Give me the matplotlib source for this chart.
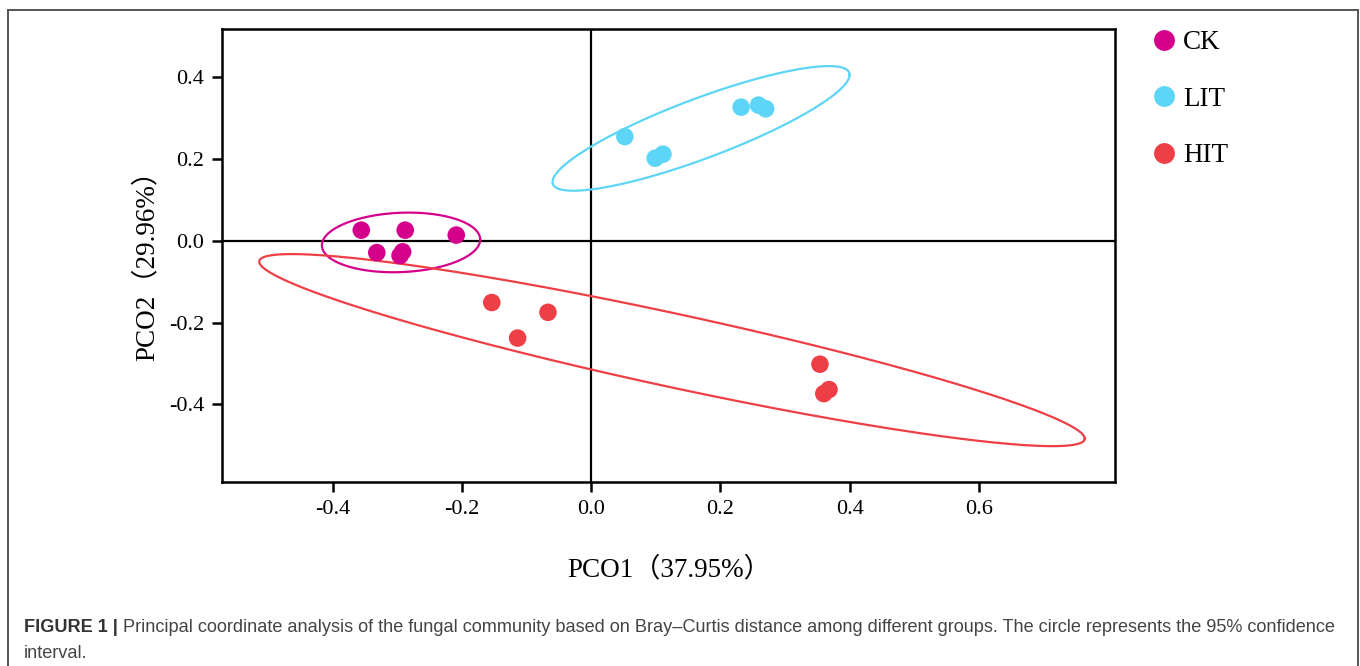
import numpy as np
import matplotlib
matplotlib.use('Agg')
import matplotlib.pyplot as plt
from matplotlib.lines import Line2D

# PCoA scores
groups = ['CK', 'LIT', 'HIT']
colors = ['#D4008C', '#5DD5F6', '#EF3F46']

ck_x = [-0.356, -0.288, -0.209, -0.332, -0.292, -0.296]
ck_y = [0.026, 0.026, 0.014, -0.029, -0.027, -0.036]
lit_x = [0.052, 0.099, 0.111, 0.232, 0.259, 0.270]
lit_y = [0.255, 0.202, 0.212, 0.327, 0.332, 0.323]
hit_x = [-0.154, -0.067, -0.114, 0.354, 0.368, 0.360]
hit_y = [-0.151, -0.175, -0.238, -0.302, -0.364, -0.374]

# 95% ellipses: centre, half extent along x / y, correlation
ell_cx = [-0.2945, 0.170, 0.125]
ell_cy = [-0.004, 0.275, -0.2675]
ell_sx = [0.1225, 0.230, 0.639]
ell_sy = [0.073, 0.1525, 0.235]
ell_r = [0.096, 0.859, -0.921]

xticks = [-0.4, -0.2, 0.0, 0.2, 0.4, 0.6]
yticks = [-0.4, -0.2, 0.0, 0.2, 0.4]

serif = ['Liberation Serif', 'Noto Sans CJK SC']

fig = plt.figure(figsize=(13.6, 6.66), dpi=100)
ax = fig.add_axes([0.1632, 0.2758, 0.6570, 0.6802])

pts_x = [ck_x, lit_x, hit_x]
pts_y = [ck_y, lit_y, hit_y]
t = np.linspace(0, 2 * np.pi, 400)
for i, g in enumerate(groups):
    cov = np.array([[ell_sx[i] ** 2, ell_r[i] * ell_sx[i] * ell_sy[i]],
                    [ell_r[i] * ell_sx[i] * ell_sy[i], ell_sy[i] ** 2]])
    L = np.linalg.cholesky(cov)
    e = L @ np.vstack([np.cos(t), np.sin(t)])
    ax.plot(ell_cx[i] + e[0], ell_cy[i] + e[1], color=colors[i], lw=1.6, zorder=2)
    ax.scatter(pts_x[i], pts_y[i], s=160, color=colors[i], edgecolors='none', zorder=3)

ax.axhline(0, color='black', lw=1.6, zorder=1)
ax.axvline(0, color='black', lw=1.6, zorder=1)

ax.set_xlim(-0.5717, 0.8115)
ax.set_ylim(-0.591, 0.5175)
ax.set_xticks(xticks)
ax.set_yticks(yticks)
ax.set_xticklabels(['%.1f' % v for v in xticks], family=serif, fontsize=16)
ax.set_yticklabels(['%.1f' % v for v in yticks], family=serif, fontsize=16)
ax.tick_params(direction='out', length=7, width=1.8, pad=6, top=False, right=False)
for sp in ax.spines.values():
    sp.set_linewidth(1.8)

fig.text(669 / 1360, 1 - 570 / 666, 'PCO1（37.95%）', family=serif, fontsize=19.5,
         ha='center', va='center')
fig.text(147 / 1360, 1 - 259 / 666, 'PCO2（29.96%）', family=serif, fontsize=19.5,
         ha='center', va='center', rotation=90)

handles = [Line2D([], [], marker='o', ls='none', markersize=15, color=c, markeredgewidth=0)
           for c in colors]
fig.legend(handles, groups, loc='upper left', bbox_to_anchor=(1148 / 1360, 1 - 30 / 666),
           frameon=False, prop={'family': serif, 'size': 19.5}, handletextpad=0.1,
           labelspacing=1.17, handlelength=1.2, borderpad=0, borderaxespad=0)

# outer frame of the figure panel
fr = dict(color='#555555', lw=1.4, transform=fig.transFigure, clip_on=False)
fig.add_artist(Line2D([8 / 1360, 8 / 1360], [0, 1 - 10 / 666], **fr))
fig.add_artist(Line2D([8 / 1360, 1358 / 1360], [1 - 10 / 666, 1 - 10 / 666], **fr))
fig.add_artist(Line2D([1358 / 1360, 1358 / 1360], [0, 1 - 10 / 666], **fr))

# caption
cap_font = 'Liberation Sans'
cap_size = 13.1
bold = fig.text(24 / 1360, 1 - 628 / 666, 'FIGURE 1 |', family=cap_font, fontsize=cap_size,
                weight='bold', color='#333333', va='center')
r = fig.canvas.get_renderer()
bb = bold.get_window_extent(r)
fig.text((bb.x1 + 5) / 1360, 1 - 628 / 666,
         'Principal coordinate analysis of the fungal community based on Bray–Curtis distance '
         'among different groups. The circle represents the 95% confidence',
         family=cap_font, fontsize=cap_size, color='#444444', va='center')
fig.text(24 / 1360, 1 - 653 / 666, 'interval.', family=cap_font, fontsize=cap_size,
         color='#444444', va='center')

fig.savefig('out.png', dpi=100)
